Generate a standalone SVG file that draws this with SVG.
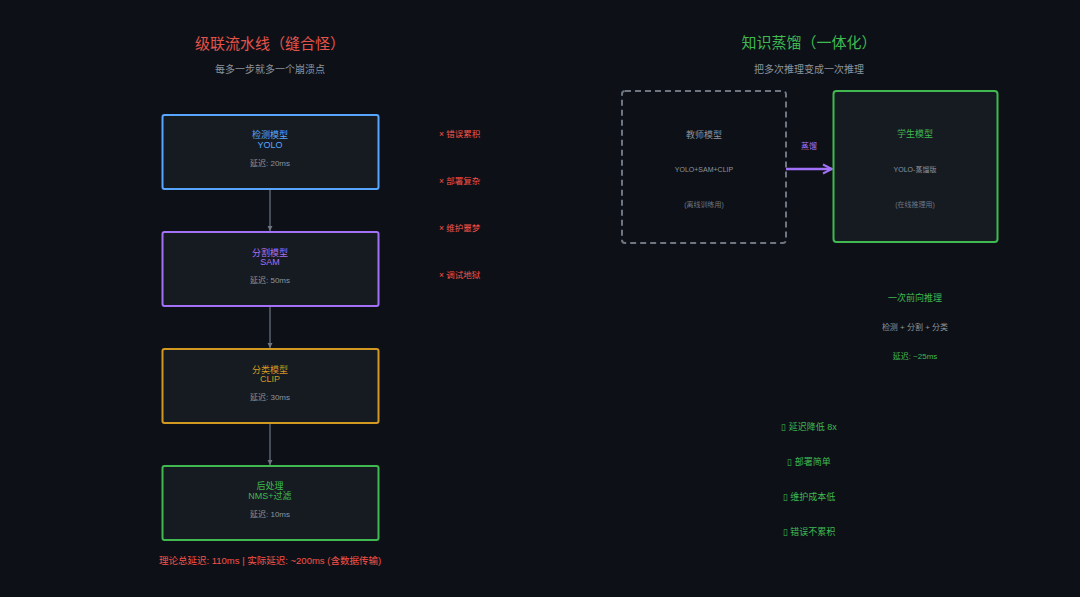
<svg xmlns="http://www.w3.org/2000/svg" width="1080" height="597" viewBox="0 0 1080 597">
<defs>
<style>
text{font-family:"Liberation Sans","Noto Sans CJK SC",sans-serif;text-anchor:middle}
.box{fill:#161b22;stroke-width:2}
.t{font-size:9px}
.s{font-size:8px;fill:#8b949e}
.red{fill:#f85149}
.grn{fill:#3fb950}
.gry{fill:#8b949e}
.li{font-size:8.5px;text-anchor:start;fill:#f85149}
</style>
<marker id="ag" markerWidth="8" markerHeight="8" refX="6" refY="4" orient="auto" markerUnits="userSpaceOnUse"><path d="M1,1.5 L6,4 L1,6.5 Z" fill="#6e7681"/></marker>
<marker id="ap" markerWidth="12" markerHeight="12" refX="10" refY="6" orient="auto" markerUnits="userSpaceOnUse"><path d="M1,1.5 L10,6 L1,10.5" fill="none" stroke="#a371f7" stroke-width="2"/></marker>
</defs>
<rect width="1080" height="597" fill="#0d1117"/>
<text x="270" y="49" font-size="15" fill="#e5534b">级联流水线（缝合怪）</text>
<text x="270" y="73" font-size="10" class="gry">每多一步就多一个崩溃点</text>
<g id="connectors">
<line x1="270" y1="190" x2="270" y2="231" stroke="#6e7681" stroke-width="1.2" marker-end="url(#ag)"/>
<line x1="270" y1="307" x2="270" y2="348" stroke="#6e7681" stroke-width="1.2" marker-end="url(#ag)"/>
<line x1="270" y1="424" x2="270" y2="465" stroke="#6e7681" stroke-width="1.2" marker-end="url(#ag)"/>
<line x1="784" y1="169" x2="832" y2="169" stroke="#a371f7" stroke-width="2.5" marker-end="url(#ap)"/>
<text x="809" y="149" font-size="8" fill="#a371f7">蒸馏</text>
</g>
<g id="n1"><rect class="box" x="162.5" y="115" width="216" height="74" rx="2" stroke="#58a6ff"/>
<text x="270" y="138" class="t" fill="#58a6ff">检测模型</text><text x="270" y="148" class="t" font-size="8.5" fill="#58a6ff">YOLO</text><text x="270" y="166" class="s">延迟: 20ms</text></g>
<g id="n2"><rect class="box" x="162.5" y="232" width="216" height="74" rx="2" stroke="#a371f7"/>
<text x="270" y="256" class="t" fill="#a371f7">分割模型</text><text x="270" y="265" class="t" font-size="8.5" fill="#a371f7">SAM</text><text x="270" y="283" class="s">延迟: 50ms</text></g>
<g id="n3"><rect class="box" x="162.5" y="349" width="216" height="74" rx="2" stroke="#d29922"/>
<text x="270" y="373" class="t" fill="#d29922">分类模型</text><text x="270" y="382" class="t" font-size="8.5" fill="#d29922">CLIP</text><text x="270" y="400" class="s">延迟: 30ms</text></g>
<g id="n4"><rect class="box" x="162.5" y="466" width="216" height="74" rx="2" stroke="#3fb950"/>
<text x="270" y="489" class="t grn">后处理</text><text x="270" y="499" class="t grn">NMS+过滤</text><text x="270" y="517" class="s">延迟: 10ms</text></g>
<g id="issues">
<text x="439" y="137" class="li">× 错误累积</text>
<text x="439" y="184" class="li">× 部署复杂</text>
<text x="439" y="231" class="li">× 维护噩梦</text>
<text x="439" y="278" class="li">× 调试地狱</text>
</g>
<text x="270" y="564" font-size="9.5" class="red">理论总延迟: 110ms | 实际延迟: ~200ms (含数据传输)</text>
<text x="809" y="48" font-size="15" class="grn">知识蒸馏（一体化）</text>
<text x="809" y="73" font-size="10" class="gry">把多次推理变成一次推理</text>
<g id="teacher"><rect x="622" y="91" width="164" height="152" rx="3" fill="#0d1117" stroke="#6e7681" stroke-width="2" stroke-dasharray="6,4"/>
<text x="704" y="138" font-size="9" class="gry">教师模型</text><text x="704" y="172" font-size="7" class="gry">YOLO+SAM+CLIP</text><text x="704" y="207" font-size="7" fill="#6e7681">(离线训练用)</text></g>
<g id="student"><rect class="box" x="833.5" y="91" width="164" height="151" rx="3" stroke="#3fb950" stroke-width="2.5"/>
<text x="915" y="137" font-size="9" class="grn">学生模型</text><text x="915" y="172" font-size="7" class="gry">YOLO-蒸馏版</text><text x="915" y="207" font-size="7" fill="#6e7681">(在线推理用)</text></g>
<g id="summary">
<text x="915" y="301" font-size="9" class="grn">一次前向推理</text>
<text x="915" y="330" font-size="8" class="gry">检测 + 分割 + 分类</text>
<text x="915" y="359" font-size="8" class="grn">延迟: ~25ms</text>
</g>
<g id="benefits">
<text x="809" y="430" font-size="9" class="grn">▯ 延迟降低 8x</text>
<text x="809" y="465" font-size="9" class="grn">▯ 部署简单</text>
<text x="809" y="500" font-size="9" class="grn">▯ 维护成本低</text>
<text x="809" y="535" font-size="9" class="grn">▯ 错误不累积</text>
</g>
</svg>
